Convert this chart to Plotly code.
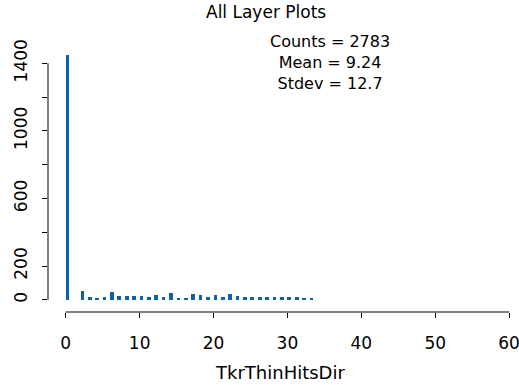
import plotly.graph_objects as go

# Histogram of TkrThinHitsDir (integer values, bins of width 0.5)
hit_values = [0, 2, 3, 4, 5, 6, 7, 8, 9, 10, 11, 12, 13, 14, 15, 16, 17, 18, 19, 20,
              21, 22, 23, 24, 25, 26, 27, 28, 29, 30, 31, 32, 33]
counts = [1450, 52, 16, 8, 16, 46, 24, 24, 24, 24, 18, 28, 14, 40, 10, 10, 36, 26, 18, 26,
          18, 36, 24, 18, 18, 18, 16, 16, 14, 14, 14, 10, 10]
bin_width = 0.5

x_ticks = [0, 10, 20, 30, 40, 50, 60]
y_ticks = [0, 200, 400, 600, 800, 1000, 1200, 1400]
y_ticktext = ["0", "200", "", "600", "", "1000", "", "1400"]

title_text = "All Layer Plots"
x_title = "TkrThinHitsDir"
stats_lines = ["Counts = 2783", "Mean = 9.24", "Stdev = 12.7"]

FONT = "DejaVu Sans"
FS = 17
BAR_COLOR = "#0b63a5"

fig = go.Figure()
fig.add_trace(go.Bar(
    x=hit_values, y=counts, width=bin_width, offset=0,
    marker=dict(color=BAR_COLOR, line=dict(width=0)),
    showlegend=False, hoverinfo="skip",
))

W, H = 519, 385
ml, mr, mt, mb = 48, 4, 30, 73
pw, ph = W - ml - mr, H - mt - mb


def px(xp):
    return (xp - ml) / pw


def py(yp):
    return (H - mb - yp) / ph


fig.update_layout(
    width=W, height=H,
    margin=dict(l=ml, r=mr, t=mt, b=mb, pad=0, autoexpand=False),
    paper_bgcolor="white", plot_bgcolor="white",
    font=dict(family=FONT, size=FS, color="black"),
    bargap=0,
    xaxis=dict(range=[-2.4, 60.8], tickvals=x_ticks, ticks="outside", ticklen=5,
               tickwidth=1, tickcolor="black", showgrid=False, zeroline=False,
               showline=False, automargin=False, tickfont=dict(size=FS),
               ticklabelstandoff=11, ticklabeloverflow="allow"),
    yaxis=dict(range=[-72, 1597], tickvals=y_ticks, ticktext=y_ticktext,
               ticks="outside", ticklen=5, tickwidth=1, tickcolor="black",
               showgrid=False, zeroline=False, showline=False, tickangle=-90,
               automargin=False, tickfont=dict(size=FS),
               ticklabelstandoff=8, ticklabeloverflow="allow"),
    shapes=[
        dict(type="line", xref="x", yref="paper", x0=0, x1=60, y0=0, y1=0,
             line=dict(color="black", width=1)),
        dict(type="line", xref="paper", yref="y", x0=0, x1=0, y0=0, y1=1400,
             line=dict(color="black", width=1)),
    ],
    annotations=[
        dict(text=title_text, xref="paper", yref="paper", x=px(266), y=py(12),
             xanchor="center", yanchor="middle", showarrow=False,
             font=dict(size=FS)),
        dict(text=x_title, xref="paper", yref="paper", x=px(280), y=py(372),
             xanchor="center", yanchor="middle", showarrow=False,
             font=dict(size=18)),
        dict(text="<br>".join(stats_lines), xref="paper", yref="paper",
             x=px(330), y=py(62), xanchor="center", yanchor="middle",
             showarrow=False, align="center", font=dict(size=16)),
    ],
)

fig.write_html("out.html", config={"displayModeBar": False},
               post_script="document.body.style.margin='0';document.body.style.padding='0';")
